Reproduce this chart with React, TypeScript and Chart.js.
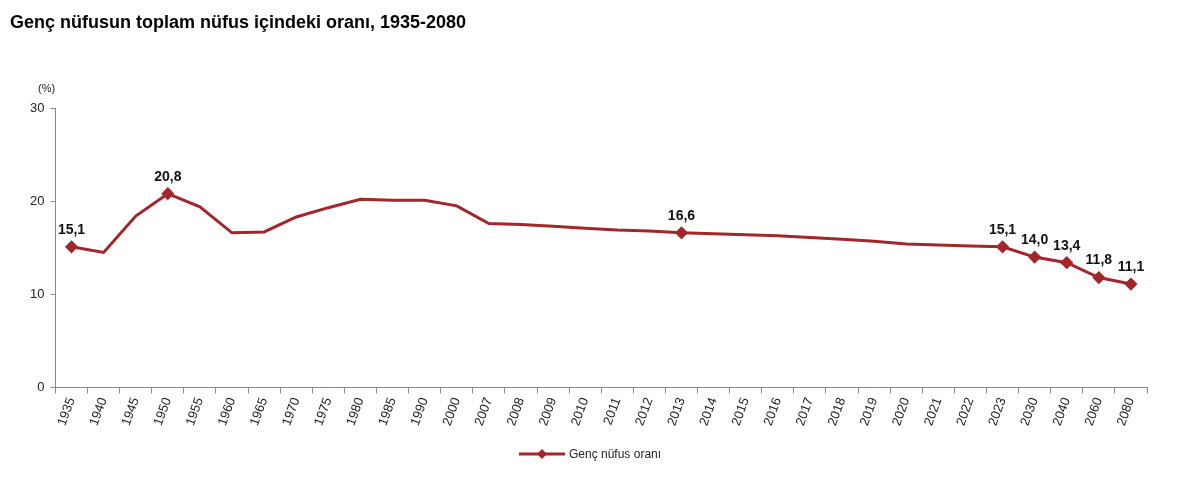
import React, { useEffect, useRef } from "react";
import { Chart, registerables } from "chart.js";
Chart.register(...registerables);

const years = ["1935","1940","1945","1950","1955","1960","1965","1970","1975","1980","1985","1990","2000","2007","2008","2009","2010","2011","2012","2013","2014","2015","2016","2017","2018","2019","2020","2021","2022","2023","2030","2040","2060","2080"];
const values = [15.1,14.5,18.4,20.8,19.4,16.6,16.7,18.3,19.3,20.2,20.1,20.1,19.5,17.6,17.5,17.3,17.1,16.9,16.8,16.6,16.5,16.4,16.3,16.1,15.9,15.7,15.4,15.3,15.2,15.1,14.0,13.4,11.8,11.1];
const labeled = ["1935","1950","2013","2023","2030","2040","2060","2080"];
const COLOR = "#a3262a";

const labelPlugin = {
  id: "vlabels",
  afterDatasetsDraw(chart: any) {
    const ctx = chart.ctx;
    const meta = chart.getDatasetMeta(0);
    ctx.save();
    ctx.font = "bold 14px Arial, 'Liberation Sans', sans-serif";
    ctx.fillStyle = "#111";
    ctx.textAlign = "center";
    ctx.textBaseline = "bottom";
    years.forEach((y, i) => {
      if (!labeled.includes(y)) return;
      const p = meta.data[i];
      ctx.fillText(values[i].toFixed(1).replace(".", ","), p.x, p.y - 10);
    });
    ctx.restore();
  },
};

export default function App() {
  const ref = useRef<HTMLCanvasElement>(null);
  useEffect(() => {
    document.body.style.margin = "0";
    const chart = new Chart(ref.current!, {
      type: "line",
      data: {
        labels: years,
        datasets: [{
          label: "Genç nüfus oranı",
          data: values,
          borderColor: COLOR,
          backgroundColor: COLOR,
          borderWidth: 3,
          pointStyle: "rectRot",
          pointRadius: years.map((y) => (labeled.includes(y) ? 4.5 : 0)),
          tension: 0,
        }],
      },
      options: {
        animation: false,
        responsive: false,
        layout: { padding: { top: 108, left: 24, right: 53, bottom: 58 } },
        plugins: { legend: { display: false }, tooltip: { enabled: false }, title: { display: false } },
        scales: {
          x: {
            offset: true,
            grid: { offset: true, drawOnChartArea: false, color: "#888", tickLength: 6 },
            border: { color: "#888" },
            ticks: { color: "#222", font: { family: "Arial, 'Liberation Sans'", size: 13 }, minRotation: 70, maxRotation: 70, padding: 2, autoSkip: false },
          },
          y: {
            min: 0, max: 30,
            ticks: { stepSize: 10, color: "#222", font: { family: "Arial, 'Liberation Sans'", size: 13 }, padding: 6 },
            grid: { drawOnChartArea: false, color: "#888", tickLength: 5 },
            border: { color: "#888" },
          },
        },
      },
      plugins: [labelPlugin],
    });
    return () => chart.destroy();
  }, []);
  return (
    <div style={{ position: "relative", width: 1200, height: 488, fontFamily: "Arial, 'Liberation Sans', sans-serif", background: "#fff" }}>
      <div style={{ position: "absolute", left: 10, top: 12, fontSize: 18, fontWeight: "bold", color: "#000" }}>Genç nüfusun toplam nüfus içindeki oranı, 1935-2080</div>
      <div style={{ position: "absolute", left: 38, top: 82, fontSize: 11, color: "#222" }}>(%)</div>
      <canvas ref={ref} width={1200} height={488} style={{ display: "block" }} />
      <div style={{ position: "absolute", left: 519, top: 447, display: "flex", alignItems: "center", fontSize: 12, color: "#222" }}>
        <svg width={46} height={12}><line x1={0} y1={6} x2={46} y2={6} stroke={COLOR} strokeWidth={3} /><polygon points="23,1 28,6 23,11 18,6" fill={COLOR} /></svg>
        <span style={{ marginLeft: 4 }}>Genç nüfus oranı</span>
      </div>
    </div>
  );
}
